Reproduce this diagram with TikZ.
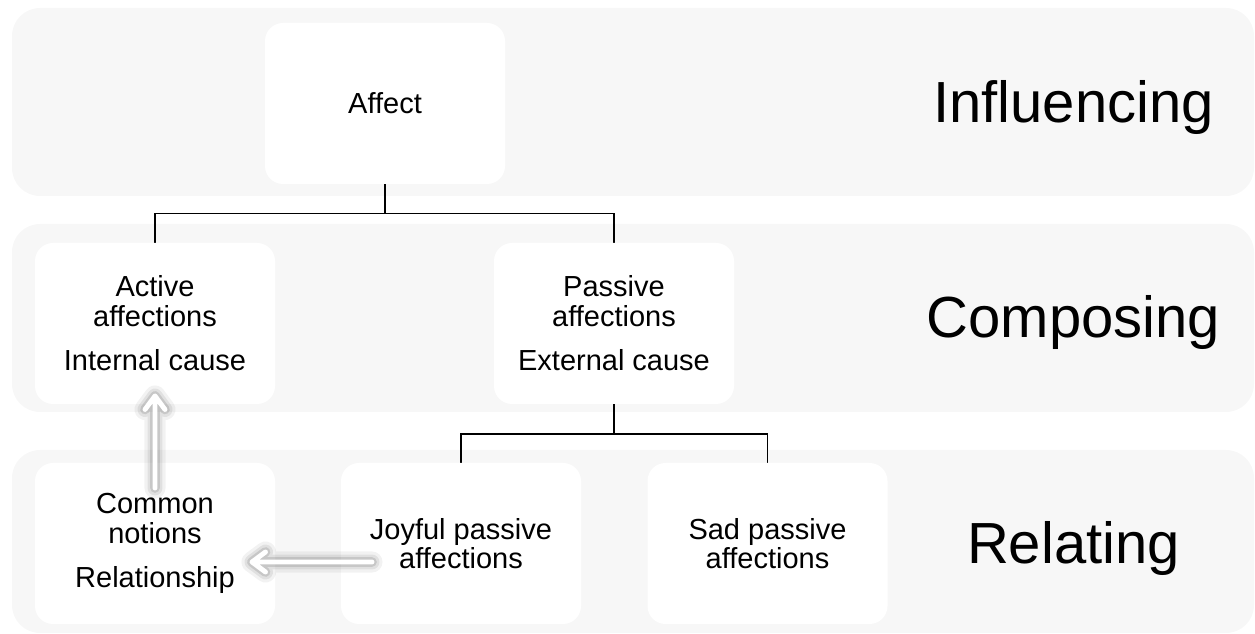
\documentclass[tikz,border=0pt]{standalone}
\usepackage{fontspec}
\setmainfont{Liberation Sans}
\pgfdeclarelayer{bandlayer}
\pgfdeclarelayer{edgelayer}
\pgfdeclarelayer{nodelayer}
\pgfsetlayers{bandlayer,edgelayer,nodelayer,main}
\definecolor{bandgray}{HTML}{F7F7F7}
\tikzset{font=\fontsize{16.5}{16.8}\selectfont}
\tikzstyle{none}=[inner sep=0pt]
\tikzstyle{band}=[fill=bandgray,rounded corners=0.56cm]
\tikzstyle{box}=[fill=white,rounded corners=0.36cm,minimum width=4.8cm,minimum height=3.22cm,align=center,inner sep=0pt]
\tikzstyle{layername}=[anchor=base,inner sep=0pt,font=\fontsize{33}{36}\selectfont]
\tikzstyle{tree}=[line width=1pt]
\tikzstyle{glowa}=[draw=black,opacity=0.05,line width=12pt,line cap=round,line join=round]
\tikzstyle{glowb}=[draw=black,opacity=0.07,line width=8.5pt,line cap=round,line join=round]
\tikzstyle{glowc}=[draw=black,opacity=0.11,line width=5.5pt,line cap=round,line join=round]
\tikzstyle{flow}=[draw=white,line width=2.8pt,line cap=round,line join=round]

\begin{document}
\begin{tikzpicture}
	\useasboundingbox (0,0) rectangle (25.1,-12.68);
	\begin{pgfonlayer}{bandlayer}
		\fill[style=band] (0.24,-0.16) rectangle (25.08,-3.92);
		\fill[style=band] (0.24,-4.48) rectangle (25.08,-8.24);
		\fill[style=band] (0.24,-9.0) rectangle (25.08,-12.66);
	\end{pgfonlayer}
	\begin{pgfonlayer}{nodelayer}
		\node [style=box] (0) at (7.7, -2.07) {Affect};
		\node [style=box] (1) at (3.1, -6.47) {Active\\affections\\[0.3cm]Internal cause};
		\node [style=box] (2) at (12.28, -6.47) {Passive\\affections\\[0.3cm]External cause};
		\node [style=box] (3) at (3.1, -10.87) {Common\\notions\\[0.3cm]Relationship};
		\node [style=box] (4) at (9.22, -10.87) {Joyful passive\\affections};
		\node [style=box] (5) at (15.35, -10.87) {Sad passive\\affections};
		\node [style=layername] (12) at (21.47, -2.46) {Influencing};
		\node [style=layername] (13) at (21.47, -6.76) {Composing};
		\node [style=layername] (14) at (21.47, -11.28) {Relating};
		\node [style=none] (6) at (3.1, -9.76) {};
		\node [style=none] (9) at (3.1, -7.92) {};
		\node [style=none] (7) at (7.44, -11.24) {};
		\node [style=none] (8) at (5.04, -11.24) {};
		\node [style=none] (10) at (7.7, -4.27) {};
		\node [style=none] (11) at (12.28, -8.68) {};
	\end{pgfonlayer}
	\begin{pgfonlayer}{edgelayer}
		\draw [style=tree] (0.south) to (10.center);
		\draw [style=tree] (10.center) -| (1.north);
		\draw [style=tree] (10.center) -| (2.north);
		\draw [style=tree] (2.south) to (11.center);
		\draw [style=tree] (11.center) -| (4.north);
		\draw [style=tree] (11.center) -| (5.north);
	\end{pgfonlayer}
	\draw [style=glowa] (6.center) -- (9.center) -- ++(-0.2,-0.27) (9.center) -- ++(0.2,-0.27);
	\draw [style=glowb] (6.center) -- (9.center) -- ++(-0.2,-0.27) (9.center) -- ++(0.2,-0.27);
	\draw [style=glowc] (6.center) -- (9.center) -- ++(-0.2,-0.27) (9.center) -- ++(0.2,-0.27);
	\draw [style=flow] (6.center) -- (9.center) -- ++(-0.2,-0.27) (9.center) -- ++(0.2,-0.27);
	\draw [style=glowa] (7.center) -- (8.center) -- ++(0.27,0.2) (8.center) -- ++(0.27,-0.2);
	\draw [style=glowb] (7.center) -- (8.center) -- ++(0.27,0.2) (8.center) -- ++(0.27,-0.2);
	\draw [style=glowc] (7.center) -- (8.center) -- ++(0.27,0.2) (8.center) -- ++(0.27,-0.2);
	\draw [style=flow] (7.center) -- (8.center) -- ++(0.27,0.2) (8.center) -- ++(0.27,-0.2);
\end{tikzpicture}
\end{document}
